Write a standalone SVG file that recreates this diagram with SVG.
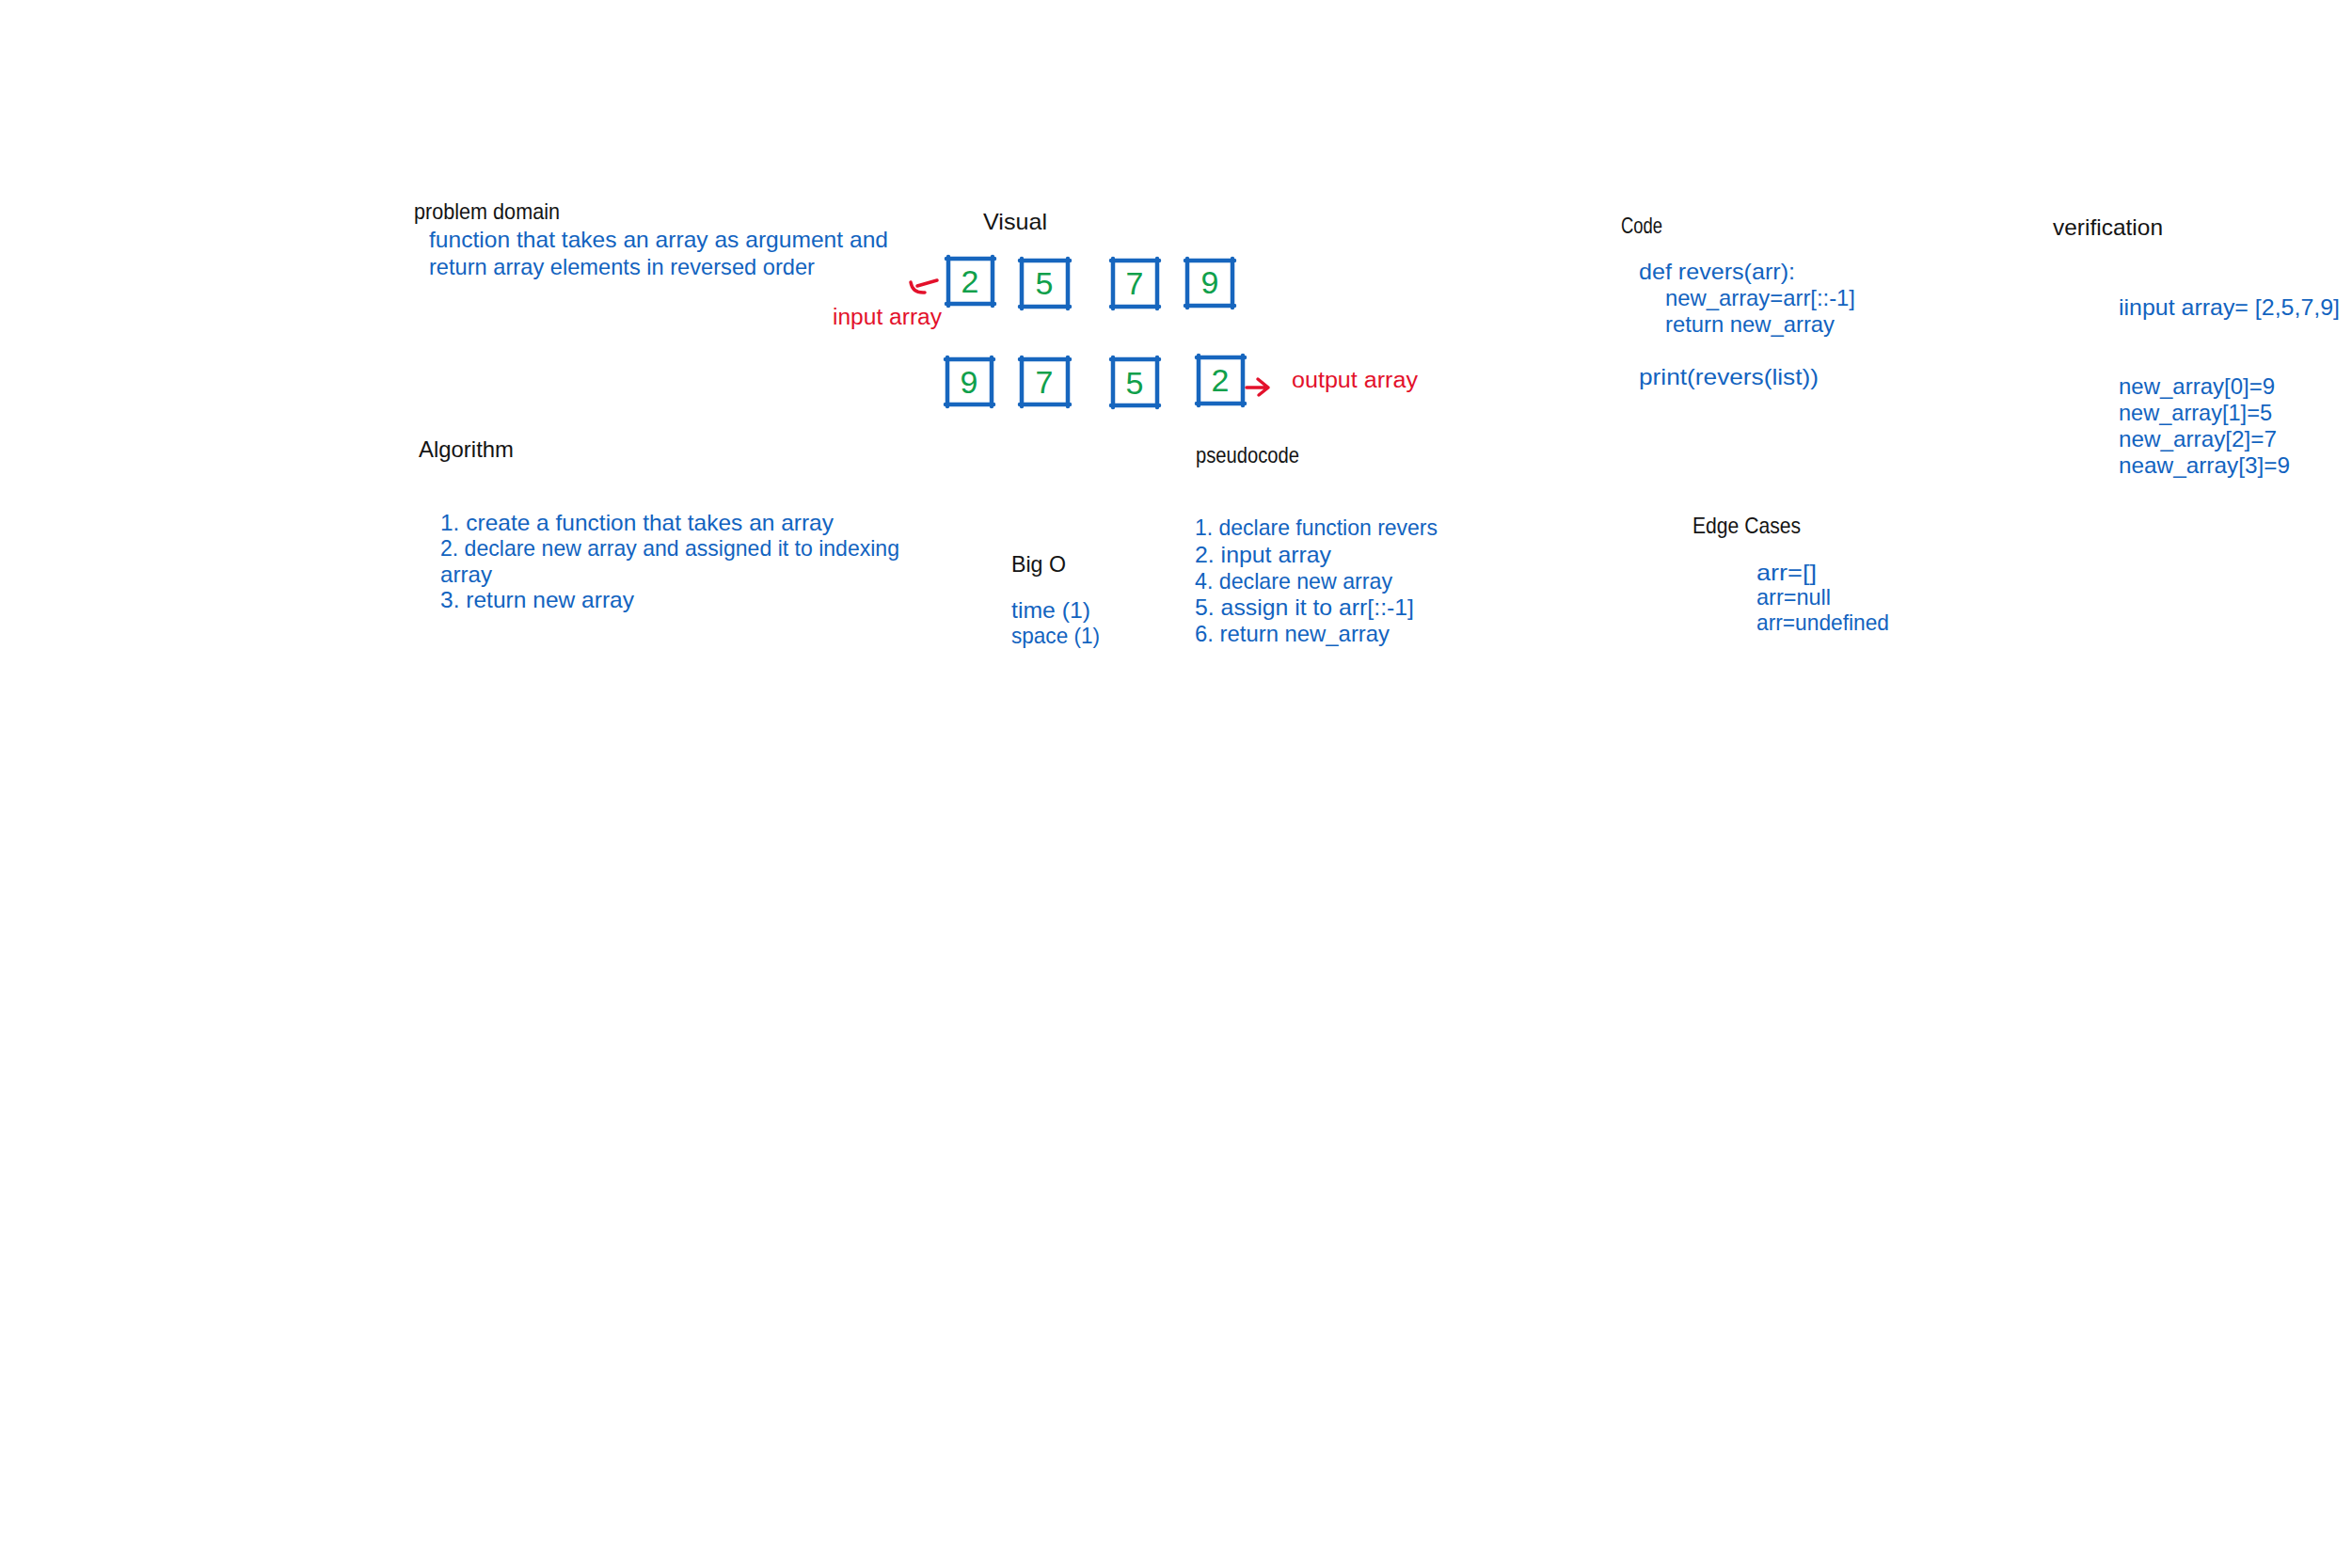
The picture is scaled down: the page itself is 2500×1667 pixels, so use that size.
<svg xmlns="http://www.w3.org/2000/svg" width="2500" height="1667" viewBox="0 0 2500 1667">
  <style>
    .head { font-family: "Liberation Sans", Arial, sans-serif; font-size: 24px; fill: #141414; }
    .body { font-family: "Liberation Sans", Arial, sans-serif; font-size: 24px; fill: #1263BF; }
    .note { font-family: "Liberation Sans", Arial, sans-serif; font-size: 23px; fill: #E3112B; }
    .digit { font-family: "Liberation Sans", Arial, sans-serif; font-size: 34px; fill: #10A04B; text-anchor: middle; }
    .cell { fill: none; stroke: #1766BE; stroke-width: 4.5; stroke-linecap: round; stroke-linejoin: round; }
    .ink { fill: none; stroke: #E3112B; stroke-width: 3.5; stroke-linecap: round; stroke-linejoin: round; }
  </style>
  <rect width="2500" height="1667" fill="#ffffff"/>

  <!-- problem domain -->
  <g id="problem-domain">
    <text class="head" x="440" y="233" textLength="155" lengthAdjust="spacingAndGlyphs">problem domain</text>
    <text class="body" x="456" y="263" textLength="488" lengthAdjust="spacingAndGlyphs">function that takes  an array as argument and</text>
    <text class="body" x="456" y="292" textLength="410" lengthAdjust="spacingAndGlyphs">return array elements in reversed order</text>
  </g>

  <!-- visual -->
  <g id="visual">
    <text class="head" x="1045" y="244" font-size="26" textLength="68" lengthAdjust="spacingAndGlyphs">Visual</text>
  </g>

  <!-- input array cells -->
  <g id="input-0">
    <path class="cell" d="M1006,275 L1057,275 M1055,273 L1055,325 M1057,323 L1006,323 M1008,325 L1008,273"/>
    <text class="digit" x="1031" y="311">2</text>
  </g>
  <g id="input-1">
    <path class="cell" d="M1084,277 L1137,277 M1135,275 L1135,328 M1137,326 L1084,326 M1086,328 L1086,275"/>
    <text class="digit" x="1110" y="313">5</text>
  </g>
  <g id="input-2">
    <path class="cell" d="M1181,277 L1232,277 M1230,275 L1230,328 M1232,326 L1181,326 M1183,328 L1183,275"/>
    <text class="digit" x="1206" y="313">7</text>
  </g>
  <g id="input-3">
    <path class="cell" d="M1260,277 L1312,277 M1310,275 L1310,327 M1312,325 L1260,325 M1262,327 L1262,275"/>
    <text class="digit" x="1286" y="312">9</text>
  </g>

  <!-- output array cells -->
  <g id="output-0">
    <path class="cell" d="M1005,382 L1056,382 M1054,380 L1054,432 M1056,430 L1005,430 M1007,432 L1007,380"/>
    <text class="digit" x="1030" y="418">9</text>
  </g>
  <g id="output-1">
    <path class="cell" d="M1084,382 L1137,382 M1135,380 L1135,432 M1137,430 L1084,430 M1086,432 L1086,380"/>
    <text class="digit" x="1110" y="418">7</text>
  </g>
  <g id="output-2">
    <path class="cell" d="M1181,382 L1232,382 M1230,380 L1230,433 M1232,431 L1181,431 M1183,433 L1183,380"/>
    <text class="digit" x="1206" y="419">5</text>
  </g>
  <g id="output-3">
    <path class="cell" d="M1272,380 L1323,380 M1321,378 L1321,431 M1323,429 L1272,429 M1274,431 L1274,378"/>
    <text class="digit" x="1297" y="416">2</text>
  </g>

  <!-- labels -->
  <g id="input-label">
    <text class="note" x="885" y="345" textLength="116" lengthAdjust="spacingAndGlyphs">input array</text>
  </g>
  <g id="output-label">
    <text class="note" x="1373" y="412" textLength="134" lengthAdjust="spacingAndGlyphs">output array</text>
  </g>

  <!-- pointer strokes -->
  <g id="connectors">
    <path class="ink" d="M996,298 L975,304 M968,300 Q970,312 983,311"/>
    <path class="ink" d="M1325,412 L1348,412 M1337,403 L1348,412 L1338,420"/>
  </g>

  <!-- code -->
  <g id="code">
    <text class="head" x="1723" y="248" textLength="44" lengthAdjust="spacingAndGlyphs">Code</text>
    <text class="body" x="1742" y="297" textLength="166" lengthAdjust="spacingAndGlyphs">def revers(arr):</text>
    <text class="body" x="1770" y="325" textLength="202" lengthAdjust="spacingAndGlyphs">new_array=arr[::-1]</text>
    <text class="body" x="1770" y="353" textLength="180" lengthAdjust="spacingAndGlyphs">return new_array</text>
    <text class="body" x="1742" y="409" textLength="191" lengthAdjust="spacingAndGlyphs">print(revers(list))</text>
  </g>

  <!-- verification -->
  <g id="verification">
    <text class="head" x="2182" y="250" textLength="117" lengthAdjust="spacingAndGlyphs">verification</text>
    <text class="body" x="2252" y="335" textLength="235" lengthAdjust="spacingAndGlyphs">iinput array= [2,5,7,9]</text>
    <text class="body" x="2252" y="419" textLength="166" lengthAdjust="spacingAndGlyphs">new_array[0]=9</text>
    <text class="body" x="2252" y="447" textLength="163" lengthAdjust="spacingAndGlyphs">new_array[1]=5</text>
    <text class="body" x="2252" y="475" textLength="168" lengthAdjust="spacingAndGlyphs">new_array[2]=7</text>
    <text class="body" x="2252" y="503" textLength="182" lengthAdjust="spacingAndGlyphs">neaw_array[3]=9</text>
  </g>

  <!-- algorithm -->
  <g id="algorithm">
    <text class="head" x="445" y="486" textLength="101" lengthAdjust="spacingAndGlyphs">Algorithm</text>
    <text class="body" x="468" y="564" textLength="418" lengthAdjust="spacingAndGlyphs">1. create a function that takes an array</text>
    <text class="body" x="468" y="591" textLength="488" lengthAdjust="spacingAndGlyphs">2. declare new array and assigned it to indexing</text>
    <text class="body" x="468" y="619" textLength="55" lengthAdjust="spacingAndGlyphs">array</text>
    <text class="body" x="468" y="646" textLength="206" lengthAdjust="spacingAndGlyphs">3. return new array</text>
  </g>

  <!-- big o -->
  <g id="big-o">
    <text class="head" x="1075" y="608" textLength="58" lengthAdjust="spacingAndGlyphs">Big O</text>
    <text class="body" x="1075" y="657" textLength="84" lengthAdjust="spacingAndGlyphs">time (1)</text>
    <text class="body" x="1075" y="684" textLength="94" lengthAdjust="spacingAndGlyphs">space (1)</text>
  </g>

  <!-- pseudocode -->
  <g id="pseudocode">
    <text class="head" x="1271" y="492" textLength="110" lengthAdjust="spacingAndGlyphs">pseudocode</text>
    <text class="body" x="1270" y="569" textLength="258" lengthAdjust="spacingAndGlyphs">1. declare function revers</text>
    <text class="body" x="1270" y="598" textLength="145" lengthAdjust="spacingAndGlyphs">2. input array</text>
    <text class="body" x="1270" y="626" textLength="210" lengthAdjust="spacingAndGlyphs">4. declare new array</text>
    <text class="body" x="1270" y="654" textLength="233" lengthAdjust="spacingAndGlyphs">5. assign it to arr[::-1]</text>
    <text class="body" x="1270" y="682" textLength="207" lengthAdjust="spacingAndGlyphs">6. return new_array</text>
  </g>

  <!-- edge cases -->
  <g id="edge-cases">
    <text class="head" x="1799" y="567" textLength="115" lengthAdjust="spacingAndGlyphs">Edge Cases</text>
    <text class="body" x="1867" y="617" textLength="64" lengthAdjust="spacingAndGlyphs">arr=[]</text>
    <text class="body" x="1867" y="643" textLength="79" lengthAdjust="spacingAndGlyphs">arr=null</text>
    <text class="body" x="1867" y="670" textLength="141" lengthAdjust="spacingAndGlyphs">arr=undefined</text>
  </g>
</svg>
